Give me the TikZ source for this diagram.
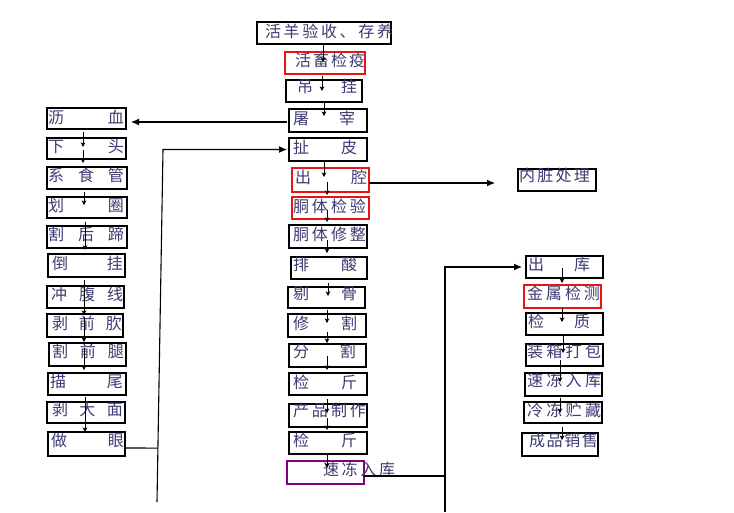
\documentclass[tikz,border=0pt]{standalone}
\usepackage{fontspec}
\newfontfamily\cjk{Noto Sans CJK SC}
\usetikzlibrary{arrows.meta,calc}
\definecolor{txtcol}{RGB}{60,60,115}
\definecolor{redc}{RGB}{230,20,20}
\definecolor{purp}{RGB}{130,0,130}
\tikzset{
  boxst/.style={draw=black,line width=1.2pt,inner sep=0pt,outer sep=0pt,rectangle},
  redbox/.style={draw=redc},
  purpbox/.style={draw=purp},
  txtst/.style={inner sep=0pt,outer sep=0pt,text=txtcol,font=\cjk\fontsize{16}{16}\selectfont},
  va/.style={line width=1pt,-{Stealth[length=4.5pt,width=4.5pt,inset=1pt]}},
  ha/.style={line width=1.1pt,-{Latex[length=8pt,width=7pt]}},
  ln/.style={line width=1.1pt}
}
\newcommand\bx[6][]{\node[boxst,#1,minimum width={(#4-#2)*1pt},minimum height={(#5-#3)*1pt}] (#6) at ({(#2+#4)/2},{(#3+#5)/2}) {};}
\newcommand\tx[5]{\node[txtst,anchor=west] (#1) at (#2,#4) {\makebox[\dimexpr#3pt-#2pt\relax]{#5}};}
\newcommand\varrow[6]{\draw[va] ($(#1.south)+(#2,#3)$) -- ($(#4.north)+(#5,#6)$);}
\begin{document}
\begin{tikzpicture}[x=1pt,y=-1pt]
\useasboundingbox[fill=white] (0,0) rectangle (734,512);
% middle column boxes
\bx{257}{22}{391}{44}{m1}
\bx[redbox]{285}{52}{365}{74}{m2}
\bx{286}{80}{362}{102}{m3}
\bx{289}{109}{367}{132}{m4}
\bx{289}{138}{367}{161}{m5}
\bx[redbox]{292}{168}{369}{192}{m6}
\bx[redbox]{292}{197}{369}{219}{m7}
\bx{289}{225}{367}{248}{m8}
\bx{291}{257}{367}{279}{m9}
\bx{288}{287}{365}{308}{m10}
\bx{288}{314}{366}{337}{m11}
\bx{289}{344}{366}{367}{m12}
\bx{289}{373}{367}{395}{m13}
\bx{289}{404}{367}{427}{m14}
\bx{289}{432}{367}{454}{m15}
\bx[purpbox]{287}{461}{364}{484}{m16}
% left column boxes
\bx{47}{108}{126}{129}{l1}
\bx{47}{138}{126}{159}{l2}
\bx{47}{167}{127}{189}{l3}
\bx{47}{197}{127}{218}{l4}
\bx{47}{226}{127}{248}{l5}
\bx{48}{254}{125}{277}{l6}
\bx{47}{286}{124}{308}{l7}
\bx{47}{314}{123}{337}{l8}
\bx{49}{343}{126}{366}{l9}
\bx{48}{373}{126}{395}{l10}
\bx{47}{402}{125}{423}{l11}
\bx{48}{432}{125}{456}{l12}
% right column boxes
\bx{526}{256}{603}{278}{r1}
\bx[redbox]{524}{285}{601}{308}{r2}
\bx{526}{313}{603}{335}{r3}
\bx{526}{344}{603}{366}{r4}
\bx{525}{373}{602}{396}{r5}
\bx{524}{402}{602}{423}{r6}
\bx{522}{433}{598}{456}{r7}
\bx{518}{169}{596}{191}{nz}
% texts middle
\tx{m1t}{265}{393}{31}{活\hfill 羊\hfill 验\hfill 收\hfill 、\hfill 存\hfill 养}
\tx{m2t}{295}{365}{60}{活\hfill 畜\hfill 检\hfill 疫}
\tx{m3t}{297}{357}{86}{吊\hfill 挂}
\tx{m4t}{293}{355}{118}{屠\hfill 宰}
\tx{m5t}{293}{357}{147}{扯\hfill 皮}
\tx{m6t}{295}{367}{177}{出\hfill 腔}
\tx{m7t}{293}{366}{206}{胴\hfill 体\hfill 检\hfill 验}
\tx{m8t}{293}{366}{234}{胴\hfill 体\hfill 修\hfill 整}
\tx{m9t}{293}{357}{264}{排\hfill 酸}
\tx{m10t}{293}{357}{294}{剔\hfill 骨}
\tx{m11t}{293}{357}{323}{修\hfill 割}
\tx{m12t}{293}{356}{351}{分\hfill 割}
\tx{m13t}{293}{357}{382}{检\hfill 斤}
\tx{m14t}{293}{366}{410}{产\hfill 品\hfill 制\hfill 作}
\tx{m15t}{293}{357}{440}{检\hfill 斤}
\tx{m16t}{323}{395}{469}{速\hfill 冻\hfill 入\hfill 库}
% texts left
\tx{l1t}{48}{124}{117}{沥\hfill 血}
\tx{l2t}{48}{124}{146}{下\hfill 头}
\tx{l3t}{48}{124}{175}{系\hfill 食\hfill 管}
\tx{l4t}{48}{124}{205}{划\hfill 圈}
\tx{l5t}{48}{124}{234}{割\hfill 后\hfill 蹄}
\tx{l6t}{52}{123}{263}{倒\hfill 挂}
\tx{l7t}{51}{123}{294}{冲\hfill 腹\hfill 线}
\tx{l8t}{52}{122}{323}{剥\hfill 前\hfill 肷}
\tx{l9t}{52}{124}{351}{割\hfill 前\hfill 腿}
\tx{l10t}{50}{123}{381}{描\hfill 尾}
\tx{l11t}{52}{123}{409}{剥\hfill 大\hfill 面}
\tx{l12t}{51}{124}{440}{做\hfill 眼}
% texts right
\tx{r1t}{528}{590}{264}{出\hfill 库}
\tx{r2t}{527}{600}{293}{金\hfill 属\hfill 检\hfill 测}
\tx{r3t}{528}{590}{321}{检\hfill 质}
\tx{r4t}{527}{601}{351}{装\hfill 箱\hfill 打\hfill 包}
\tx{r5t}{527}{601}{380}{速\hfill 冻\hfill 入\hfill 库}
\tx{r6t}{527}{601}{410}{冷\hfill 冻\hfill 贮\hfill 藏}
\tx{r7t}{529}{598}{440}{成\hfill 品\hfill 销\hfill 售}
\tx{nzt}{519}{590}{175}{内\hfill 脏\hfill 处\hfill 理}
% middle arrows
\varrow{m1}{-1}{0}{m2}{-2}{10}
\varrow{m2}{-3}{2}{m3}{-2}{11}
\varrow{m3}{0}{0}{m4}{-4}{7}
\varrow{m5}{-4}{1}{m6}{-6.5}{9}
\varrow{m6}{-3.5}{-10}{m7}{-3.5}{-2}
\varrow{m7}{-3.5}{-9}{m8}{-1}{-3}
\varrow{m8}{-1}{-8}{m9}{-2}{-4}
\varrow{m9}{-1}{4}{m10}{1.5}{9}
\varrow{m10}{0.5}{2}{m11}{0}{9}
\varrow{m11}{0}{-5}{m12}{-0.5}{-1}
\varrow{m12}{-0.5}{-11}{m13}{-1}{-3}
\varrow{m13}{-1}{4}{m14}{-1}{9}
\varrow{m14}{-1}{-9}{m15}{-1}{-2}
\varrow{m15}{-1}{0}{m16}{1.5}{7}
% left arrows
\varrow{l1}{-3.5}{3}{l2}{-3.5}{9}
\varrow{l2}{-3.5}{-9}{l3}{-4}{-4}
\varrow{l3}{-3}{3}{l4}{-3}{8}
\varrow{l4}{-2}{4}{l6}{-1.5}{-4}
\varrow{l6}{-2.5}{3}{l8}{-1}{1}
\varrow{l8}{-1}{-20}{l9}{-3.5}{-1}
\varrow{l9}{-3.5}{-18}{l10}{-3}{-3}
\varrow{l10}{-2}{2}{l12}{-1.5}{0}
% right arrows
\varrow{r1}{-2.5}{-10}{r2}{-0.5}{-2}
\varrow{r2}{-0.5}{0}{r3}{-2.5}{9}
\varrow{r3}{-1.5}{0}{r4}{-1.5}{9}
\varrow{r4}{-4.5}{-6}{r5}{-3.5}{9}
\varrow{r5}{-3.5}{2}{r6}{-3}{11}
\varrow{r6}{-1}{4}{r7}{2}{7}
% horizontal connectors
\draw[ha] ($(m4.west)+(-2,1.5)$) -- ($(l1.east)+(5,3.5)$);
\draw[ha] ($(m6.east)+(0,3)$) -- ($(nz.west)+(-23,3)$);
\coordinate (fb1) at (157,502);
\coordinate (fb2) at (163,149.5);
\draw[ln] ($(l12.east)+(0,4)$) -- ($(fb1)!0.153!(fb2)$);
\draw[ha] (fb1) -- (fb2) -- ($(m5.west)+(-2,0)$);
\coordinate (rb) at (445,512);
\coordinate (rt) at (445,267);
\draw[ln] ($(m16.east)+(0,3.5)$) -- (rb |- 0,476);
\draw[ha] (rb) -- (rt) -- ($(r1.west)+(-4,0)$);
\end{tikzpicture}
\end{document}
